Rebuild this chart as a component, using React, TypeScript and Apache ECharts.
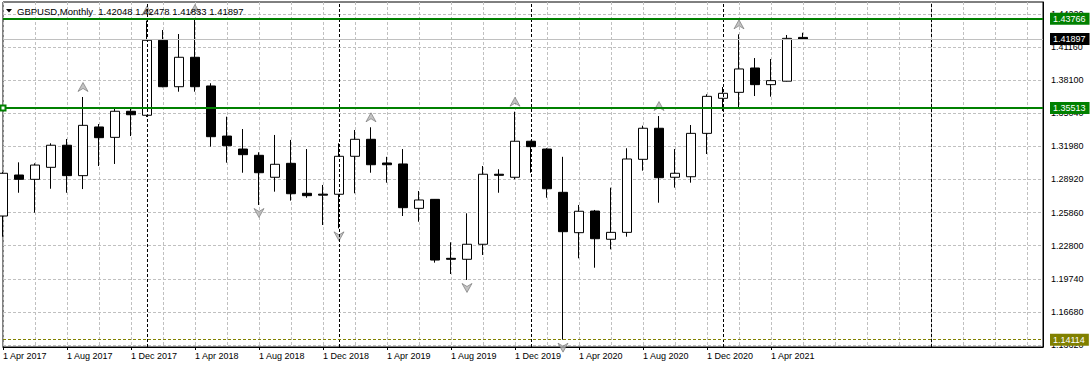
import React, { useEffect, useRef } from 'react';
import * as echarts from 'echarts';

const categories: string[] = [
  '1 Apr 2017', '1 May 2017', '1 Jun 2017', '1 Jul 2017', '1 Aug 2017', '1 Sep 2017', '1 Oct 2017', '1 Nov 2017', '1 Dec 2017',
  '1 Jan 2018', '1 Feb 2018', '1 Mar 2018', '1 Apr 2018', '1 May 2018', '1 Jun 2018', '1 Jul 2018', '1 Aug 2018', '1 Sep 2018', '1 Oct 2018', '1 Nov 2018', '1 Dec 2018',
  '1 Jan 2019', '1 Feb 2019', '1 Mar 2019', '1 Apr 2019', '1 May 2019', '1 Jun 2019', '1 Jul 2019', '1 Aug 2019', '1 Sep 2019', '1 Oct 2019', '1 Nov 2019', '1 Dec 2019',
  '1 Jan 2020', '1 Feb 2020', '1 Mar 2020', '1 Apr 2020', '1 May 2020', '1 Jun 2020', '1 Jul 2020', '1 Aug 2020', '1 Sep 2020', '1 Oct 2020', '1 Nov 2020', '1 Dec 2020',
  '1 Jan 2021', '1 Feb 2021', '1 Mar 2021', '1 Apr 2021', '1 May 2021', '1 Jun 2021', '1 Jul 2021', '1 Aug 2021', '1 Sep 2021', '1 Oct 2021', '1 Nov 2021', '1 Dec 2021',
  '1 Jan 2022', '1 Feb 2022', '1 Mar 2022', '1 Apr 2022', '1 May 2022', '1 Jun 2022', '1 Jul 2022', '1 Aug 2022', '1 Sep 2022',
];

const openValues: number[] = [
  1.2554, 1.2933, 1.2893, 1.3004, 1.3208, 1.2927, 1.3377, 1.3281, 1.3522,
  1.3485, 1.4178, 1.3749, 1.4021, 1.3756, 1.3293, 1.3173, 1.3115, 1.2912, 1.3041, 1.2764, 1.2756,
  1.2755, 1.3106, 1.3263, 1.3044, 1.3035, 1.2625, 1.2708, 1.2163, 1.2154, 1.2293, 1.2940, 1.2912,
  1.3245, 1.3173, 1.2773, 1.2400, 1.2600, 1.2339, 1.2403, 1.3078, 1.3365, 1.2912, 1.2917, 1.3318,
  1.3642, 1.3697, 1.3922, 1.3768, 1.3800, 1.42048,
];
const highValues: number[] = [
  1.2960, 1.3050, 1.3041, 1.3226, 1.3266, 1.3654, 1.3404, 1.3550, 1.3550,
  1.4360, 1.4273, 1.4236, 1.4375, 1.3781, 1.3472, 1.3358, 1.3143, 1.3303, 1.3257, 1.3173, 1.2841,
  1.3226, 1.3349, 1.3374, 1.3101, 1.3173, 1.2785, 1.2711, 1.2311, 1.2579, 1.3016, 1.2986, 1.3518,
  1.3250, 1.3180, 1.3101, 1.2656, 1.2610, 1.2816, 1.3180, 1.3389, 1.3478, 1.3173, 1.3395, 1.3679,
  1.3746, 1.4233, 1.4014, 1.4005, 1.4227, 1.42478,
];
const lowValues: number[] = [
  1.2363, 1.2769, 1.2585, 1.2806, 1.2769, 1.2803, 1.3016, 1.3035, 1.3293,
  1.3470, 1.3744, 1.3703, 1.3703, 1.3195, 1.3047, 1.2954, 1.2656, 1.2779, 1.2696, 1.2723, 1.2471,
  1.2440, 1.2764, 1.2954, 1.2862, 1.2554, 1.2501, 1.2123, 1.2018, 1.1963, 1.2194, 1.2769, 1.2893,
  1.2954, 1.2723, 1.14114, 1.2163, 1.2076, 1.2246, 1.2363, 1.2973, 1.2677, 1.2816, 1.2862, 1.3127,
  1.3525, 1.3555, 1.3663, 1.3657, 1.3797, 1.41833,
];
const closeValues: number[] = [
  1.2949, 1.2893, 1.3025, 1.3208, 1.2927, 1.3392, 1.3278, 1.3522, 1.3490,
  1.4178, 1.3749, 1.4021, 1.3749, 1.3287, 1.3204, 1.3121, 1.2954, 1.3032, 1.2760, 1.2742, 1.2747,
  1.3106, 1.3263, 1.3028, 1.3028, 1.2631, 1.2702, 1.2147, 1.2154, 1.2293, 1.2940, 1.2930, 1.3245,
  1.3195, 1.2806, 1.2409, 1.2598, 1.2344, 1.2403, 1.3081, 1.3365, 1.2908, 1.2949, 1.3318, 1.3660,
  1.3688, 1.3913, 1.3768, 1.3805, 1.4196, 1.41897,
];

const yTickValues: number[] = [1.1362, 1.1668, 1.1974, 1.228, 1.2586, 1.2892, 1.3198, 1.3504, 1.381, 1.4116, 1.4422];
const fractalUpIndex: number[] = [5, 9, 12, 23, 32, 41, 46];
const fractalDownIndex: number[] = [16, 21, 29, 35];
const greenLevels: number[] = [1.43766, 1.35513];
const bidLevel = 1.41897;
const lowLevel = 1.14114;
const separatorMonths: string[] = ['1 Jan 2018', '1 Jan 2019', '1 Jan 2020', '1 Jan 2021', '1 Feb 2022'];
const symbolName = 'GBPUSD,Monthly';

const FONT = '"Liberation Sans", Arial, sans-serif';

export default function App() {
  const ref = useRef<HTMLDivElement>(null);

  useEffect(() => {
    document.body.style.margin = '0';
    if (!ref.current) return;
    const chart = echarts.init(ref.current, undefined, { renderer: 'svg' });
    const last = openValues.length - 1;
    const titleText = `${symbolName}  ${openValues[last].toFixed(5)} ${highValues[last].toFixed(5)} ${lowValues[last].toFixed(5)} ${closeValues[last].toFixed(5)}`;
    const labelInterval = (i: number) => i % 4 === 0 && i < openValues.length;

    const tag = (v: number, bg: string) => ({
      show: true,
      position: 'end',
      formatter: v.toFixed(5),
      backgroundColor: bg,
      color: '#fff',
      padding: [2, 4, 1, 3],
      fontSize: 9,
      fontFamily: FONT,
      distance: 7,
    });

    const option: any = {
      animation: false,
      backgroundColor: '#fff',
      textStyle: { fontFamily: FONT },
      title: {
        text: titleText,
        left: 17,
        top: 6,
        padding: 0,
        textStyle: { fontSize: 9.5, fontWeight: 'normal', color: '#000', fontFamily: FONT },
      },
      graphic: [
        { type: 'polygon', shape: { points: [[6, 9], [12, 9], [9, 12.5]] }, style: { fill: '#000' } },
      ],
      grid: { left: 3, right: 48, top: 2, bottom: 21, show: true, borderColor: '#000', borderWidth: 1 },
      xAxis: {
        type: 'category',
        data: categories,
        boundaryGap: false,
        axisLine: { show: true, lineStyle: { color: '#000' } },
        axisTick: { show: true, interval: labelInterval, length: 3, lineStyle: { color: '#000' } },
        axisLabel: { interval: labelInterval, align: 'left', margin: 4, fontSize: 9, color: '#000', fontFamily: FONT },
        splitLine: { show: true, interval: (i: number) => i % 2 === 0, lineStyle: { color: '#c0c0c0', type: [3, 2] } },
      },
      yAxis: {
        type: 'value',
        position: 'right',
        min: 1.13434,
        max: 1.45319,
        axisLine: { show: true, lineStyle: { color: '#000' } },
        axisTick: { show: false, customValues: yTickValues },
        axisLabel: {
          customValues: yTickValues,
          formatter: (v: number) => v.toFixed(5),
          margin: 8,
          fontSize: 9,
          color: '#000',
          fontFamily: FONT,
        },
        splitLine: { show: true, lineStyle: { color: '#c0c0c0', type: [3, 2] } },
      },
      series: [
        {
          type: 'candlestick',
          data: openValues.map((o, i) => [o, closeValues[i], lowValues[i], highValues[i]]),
          barWidth: 10,
          clip: true,
          itemStyle: {
            color: '#fff',
            color0: '#000',
            borderColor: '#000',
            borderColor0: '#000',
            borderColorDoji: '#000',
            borderWidth: 1,
          },
          markLine: {
            silent: true,
            symbol: 'none',
            precision: 5,
            animation: false,
            data: [
              ...separatorMonths.map((m) => ({
                xAxis: m,
                lineStyle: { color: '#000', type: [3, 2], width: 1 },
                label: { show: false },
              })),
              { yAxis: bidLevel, lineStyle: { color: '#c0c0c0', type: 'solid', width: 1 }, label: tag(bidLevel, '#000') },
              { yAxis: lowLevel, lineStyle: { color: '#808000', type: [3, 2], width: 1 }, label: tag(lowLevel, '#808000') },
              { yAxis: greenLevels[0], lineStyle: { color: '#008000', type: 'solid', width: 2 }, label: tag(greenLevels[0], '#008000') },
              {
                yAxis: greenLevels[1],
                symbol: 'emptyRect',
                symbolSize: 5,
                lineStyle: { color: '#008000', type: 'solid', width: 2 },
                label: tag(greenLevels[1], '#008000'),
              },
            ],
          },
        },
        {
          type: 'scatter',
          data: fractalUpIndex.map((i) => [i, highValues[i]]),
          symbol: 'path://M5,0L10,9L5,6L0,9Z',
          symbolSize: [10, 9],
          symbolOffset: [0, -10],
          itemStyle: { color: '#b4b4b4', borderColor: '#606060', borderWidth: 0.7 },
          z: 4,
        },
        {
          type: 'scatter',
          data: fractalDownIndex.map((i) => [i, lowValues[i]]),
          symbol: 'path://M0,0L5,3L10,0L5,9Z',
          symbolSize: [10, 9],
          symbolOffset: [0, 8],
          itemStyle: { color: '#b4b4b4', borderColor: '#606060', borderWidth: 0.7 },
          z: 4,
        },
      ],
    };

    chart.setOption(option);
    return () => chart.dispose();
  }, []);

  return <div ref={ref} style={{ width: 1091, height: 368, position: 'absolute', left: 0, top: 0 }} />;
}
